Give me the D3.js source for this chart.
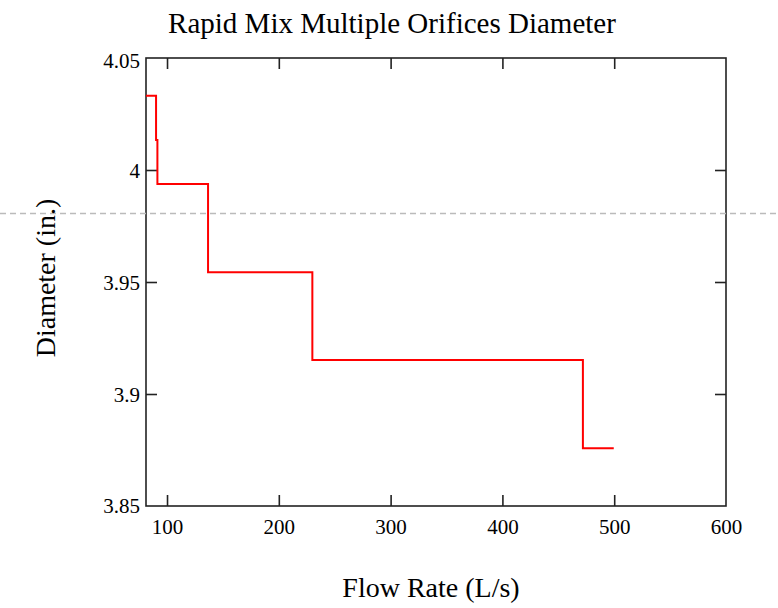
<!DOCTYPE html>
<html>
<head>
<meta charset="utf-8">
<script src="https://cdn.jsdelivr.net/npm/d3@7/dist/d3.min.js"></script>
<style>
html,body{margin:0;padding:0;background:#fff;}
svg text{font-family:"Liberation Serif","Times New Roman",serif;fill:#000;}
</style>
</head>
<body>
<svg id="chart" width="778" height="608"></svg>
<script>
// Step data: flow rate (L/s) and orifice diameter (in.)
const flowRates = [81.2, 90.2, 90.2, 91.4, 91.4, 136.7, 136.7, 230.0, 230.0, 472.0, 472.0, 499.6];
const diameters = [4.0332, 4.0332, 4.0134, 4.0134, 3.9938, 3.9938, 3.9543, 3.9543, 3.9152, 3.9152, 3.8758, 3.8758];
const xTicks = [100, 200, 300, 400, 500, 600];
const yTicks = [3.85, 3.9, 3.95, 4, 4.05];
const xDomain = [81.2, 600];
const yDomain = [3.85, 4.05];
const guideValue = 3.9808;

(function () {
const svg = d3.select("#chart");
const pL = 146, pR = 726, pT = 58, pB = 506;
const x = d3.scaleLinear().domain(xDomain).range([pL, pR]);
const y = d3.scaleLinear().domain(yDomain).range([pB, pT]);

const axisColor = "#222";
const tickLen = 11;

// frame
svg.append("rect").attr("x", pL).attr("y", pT)
  .attr("width", pR - pL).attr("height", pB - pT)
  .attr("fill", "none").attr("stroke", axisColor).attr("stroke-width", 1.6);

const fmt = d => d3.format("")(d);
const bx = svg.append("g").attr("transform", `translate(0,${pB})`)
  .call(d3.axisBottom(x).tickValues(xTicks).tickSize(-tickLen).tickPadding(tickLen + 6).tickFormat(fmt));
const tx = svg.append("g").attr("transform", `translate(0,${pT})`)
  .call(d3.axisTop(x).tickValues(xTicks.filter(v => v < 600)).tickSize(-tickLen).tickFormat(""));
const ly = svg.append("g").attr("transform", `translate(${pL},0)`)
  .call(d3.axisLeft(y).tickValues(yTicks).tickSize(-tickLen).tickPadding(-tickLen + 6).tickFormat(fmt));
const ry = svg.append("g").attr("transform", `translate(${pR},0)`)
  .call(d3.axisRight(y).tickValues(yTicks.filter(v => v > 3.85 && v < 4.05)).tickSize(-tickLen).tickFormat(""));

[bx, tx, ly, ry].forEach(g => {
  g.select(".domain").remove();
  g.selectAll(".tick line").attr("stroke", axisColor).attr("stroke-width", 1.6);
  g.selectAll(".tick text").attr("font-size", 21).attr("font-family", "Liberation Serif, serif").attr("fill", "#000");
});
ly.selectAll(".tick").filter(d => d === 3.85 || d === 4.05).select("line").remove();
bx.selectAll(".tick").filter(d => d === 600).select("line").remove();
ly.selectAll(".tick text").attr("x", -6).attr("dy", "0.35em");
ly.selectAll(".tick").filter(d => d === 3.85).select("text").attr("dy", "0.3em");
ly.selectAll(".tick").filter(d => d === 4.05).select("text").attr("dy", "0.45em");
bx.selectAll(".tick text").attr("dy", "0.5em");

// step line
const line = d3.line().x((d, i) => x(flowRates[i])).y((d, i) => y(diameters[i]));
svg.append("path").datum(flowRates)
  .attr("d", line)
  .attr("fill", "none").attr("stroke", "#ff0000").attr("stroke-width", 2);

// dashed horizontal guide across the full width
const gy = Math.round(y(guideValue)) + 0.5;
svg.append("line").attr("x1", 0).attr("x2", 778)
  .attr("y1", gy).attr("y2", gy)
  .attr("stroke", "#bbb").attr("stroke-width", 1.5).attr("stroke-dasharray", "6,4");

// title and labels
svg.append("text").attr("x", 392).attr("y", 33).attr("text-anchor", "middle")
  .attr("font-size", 29).text("Rapid Mix Multiple Orifices Diameter");
svg.append("text").attr("x", 431).attr("y", 597).attr("text-anchor", "middle")
  .attr("font-size", 28).text("Flow Rate (L/s)");
svg.append("text").attr("transform", `translate(55,278) rotate(-90)`)
  .attr("text-anchor", "middle").attr("font-size", 28).text("Diameter (in.)");
})();
</script>
</body>
</html>
